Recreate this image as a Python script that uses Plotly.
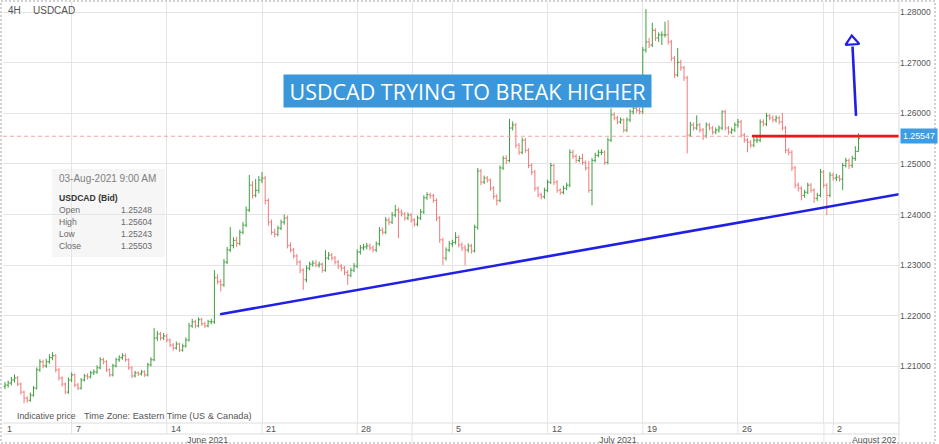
import plotly.graph_objects as go

# ---------------- data (4H USDCAD bars) ----------------
bar_index = list(range(270))

open_ = [
    1.2060, 1.2063, 1.2067, 1.2073, 1.2077, 1.2065, 1.2049, 1.2037, 1.2033, 1.2043, 1.2057, 1.2093, 1.2109, 1.2101, 1.2109, 1.2117, 1.2121, 1.2093, 1.2077, 1.2065, 1.2049,
    1.2073, 1.2083, 1.2063, 1.2057, 1.2073, 1.2081, 1.2079, 1.2087, 1.2089, 1.2097, 1.2113, 1.2109, 1.2093, 1.2083, 1.2101, 1.2113, 1.2117, 1.2121, 1.2113, 1.2097, 1.2081, 1.2087, 1.2085, 1.2089, 1.2083, 1.2103, 1.2113, 1.2156, 1.2164, 1.2156,
    1.2160, 1.2152, 1.2142, 1.2136, 1.2144, 1.2132, 1.2140, 1.2152, 1.2180, 1.2188, 1.2180, 1.2192, 1.2184, 1.2180, 1.2188, 1.2188, 1.2275, 1.2267, 1.2261, 1.2306, 1.2330, 1.2339, 1.2349, 1.2343, 1.2365, 1.2379, 1.2409, 1.2458, 1.2438, 1.2448,
    1.2468, 1.2472, 1.2428, 1.2385, 1.2365, 1.2361, 1.2373, 1.2385, 1.2393, 1.2339, 1.2330, 1.2318, 1.2306, 1.2290, 1.2271, 1.2294, 1.2302, 1.2304, 1.2300, 1.2302, 1.2290, 1.2314, 1.2320, 1.2314, 1.2306, 1.2298, 1.2294, 1.2286, 1.2280, 1.2290,
    1.2298, 1.2326, 1.2334, 1.2336, 1.2338, 1.2334, 1.2330, 1.2342, 1.2369, 1.2365, 1.2389, 1.2385, 1.2399, 1.2409, 1.2405, 1.2401, 1.2393, 1.2399, 1.2389, 1.2381, 1.2393, 1.2405, 1.2433, 1.2439, 1.2437, 1.2428, 1.2393, 1.2350, 1.2314, 1.2330,
    1.2342, 1.2345, 1.2355, 1.2340, 1.2334, 1.2330, 1.2338, 1.2328, 1.2375, 1.2486, 1.2464, 1.2472, 1.2468, 1.2452, 1.2436, 1.2428, 1.2492, 1.2511, 1.2507, 1.2571, 1.2577, 1.2537, 1.2523, 1.2547, 1.2527, 1.2497, 1.2484, 1.2452, 1.2439, 1.2435,
    1.2448, 1.2464, 1.2497, 1.2464, 1.2448, 1.2444, 1.2452, 1.2458, 1.2523, 1.2515, 1.2507, 1.2511, 1.2503, 1.2492, 1.2448, 1.2507, 1.2517, 1.2523, 1.2523, 1.2503, 1.2547, 1.2597, 1.2591, 1.2583, 1.2587, 1.2567, 1.2587, 1.2603, 1.2610, 1.2606,
    1.2603, 1.2725, 1.2741, 1.2735, 1.2764, 1.2749, 1.2755, 1.2755, 1.2755, 1.2741, 1.2709, 1.2676, 1.2701, 1.2690, 1.2670, 1.2557, 1.2577, 1.2571, 1.2577, 1.2567, 1.2555, 1.2577, 1.2571, 1.2563, 1.2567, 1.2571, 1.2603, 1.2571, 1.2563, 1.2567,
    1.2577, 1.2583, 1.2557, 1.2547, 1.2543, 1.2537, 1.2547, 1.2547, 1.2583, 1.2579, 1.2595, 1.2591, 1.2587, 1.2591, 1.2583, 1.2571, 1.2527, 1.2523, 1.2492, 1.2458, 1.2452, 1.2438, 1.2444, 1.2458, 1.2448, 1.2432, 1.2438, 1.2484, 1.2458, 1.2438,
    1.2478, 1.2472, 1.2474, 1.2470, 1.2497, 1.2507, 1.2497, 1.2511, 1.25248,
]

high = [
    1.2069, 1.2072, 1.2079, 1.2084, 1.2081, 1.2068, 1.2052, 1.2041, 1.2048, 1.2061, 1.2098, 1.2114, 1.2113, 1.2115, 1.2124, 1.2128, 1.2124, 1.2097, 1.2080, 1.2068, 1.2078,
    1.2088, 1.2086, 1.2067, 1.2077, 1.2085, 1.2086, 1.2091, 1.2094, 1.2102, 1.2118, 1.2117, 1.2112, 1.2096, 1.2105, 1.2117, 1.2122, 1.2126, 1.2125, 1.2116, 1.2100, 1.2091, 1.2090, 1.2093, 1.2092, 1.2107, 1.2118, 1.2176, 1.2170, 1.2168, 1.2166,
    1.2164, 1.2155, 1.2146, 1.2149, 1.2147, 1.2145, 1.2157, 1.2186, 1.2194, 1.2192, 1.2197, 1.2196, 1.2188, 1.2192, 1.2194, 1.2290, 1.2282, 1.2272, 1.2312, 1.2336, 1.2375, 1.2355, 1.2356, 1.2370, 1.2385, 1.2416, 1.2478, 1.2466, 1.2470, 1.2476,
    1.2484, 1.2476, 1.2432, 1.2390, 1.2372, 1.2378, 1.2390, 1.2400, 1.2398, 1.2345, 1.2334, 1.2322, 1.2310, 1.2294, 1.2299, 1.2307, 1.2309, 1.2310, 1.2307, 1.2305, 1.2330, 1.2326, 1.2324, 1.2318, 1.2310, 1.2302, 1.2298, 1.2290, 1.2295, 1.2304,
    1.2331, 1.2340, 1.2342, 1.2344, 1.2343, 1.2339, 1.2347, 1.2375, 1.2374, 1.2395, 1.2394, 1.2405, 1.2419, 1.2414, 1.2410, 1.2405, 1.2404, 1.2403, 1.2393, 1.2398, 1.2411, 1.2438, 1.2444, 1.2443, 1.2441, 1.2432, 1.2397, 1.2354, 1.2335, 1.2348,
    1.2350, 1.2365, 1.2359, 1.2345, 1.2340, 1.2343, 1.2342, 1.2380, 1.2492, 1.2490, 1.2477, 1.2476, 1.2471, 1.2456, 1.2440, 1.2497, 1.2516, 1.2517, 1.2589, 1.2584, 1.2581, 1.2541, 1.2552, 1.2551, 1.2531, 1.2501, 1.2488, 1.2456, 1.2443, 1.2453,
    1.2469, 1.2502, 1.2500, 1.2468, 1.2452, 1.2457, 1.2463, 1.2529, 1.2528, 1.2519, 1.2516, 1.2520, 1.2507, 1.2506, 1.2512, 1.2522, 1.2528, 1.2529, 1.2527, 1.2552, 1.2610, 1.2602, 1.2595, 1.2592, 1.2590, 1.2592, 1.2608, 1.2616, 1.2614, 1.2611,
    1.2731, 1.2806, 1.2749, 1.2779, 1.2768, 1.2760, 1.2762, 1.2781, 1.2784, 1.2745, 1.2713, 1.2729, 1.2706, 1.2694, 1.2674, 1.2583, 1.2582, 1.2596, 1.2581, 1.2571, 1.2582, 1.2581, 1.2575, 1.2572, 1.2576, 1.2606, 1.2607, 1.2575, 1.2572, 1.2582,
    1.2589, 1.2587, 1.2561, 1.2551, 1.2547, 1.2552, 1.2553, 1.2588, 1.2588, 1.2601, 1.2599, 1.2596, 1.2596, 1.2595, 1.2601, 1.2575, 1.2531, 1.2527, 1.2496, 1.2463, 1.2456, 1.2449, 1.2463, 1.2462, 1.2452, 1.2443, 1.2490, 1.2488, 1.2462, 1.2484,
    1.2483, 1.2480, 1.2478, 1.2502, 1.2512, 1.2511, 1.2516, 1.2535, 1.25604,
]

low = [
    1.2055, 1.2058, 1.2062, 1.2068, 1.2061, 1.2044, 1.2027, 1.2028, 1.2030, 1.2040, 1.2054, 1.2089, 1.2096, 1.2097, 1.2105, 1.2112, 1.2088, 1.2072, 1.2060, 1.2045, 1.2046,
    1.2069, 1.2059, 1.2053, 1.2054, 1.2070, 1.2074, 1.2076, 1.2083, 1.2085, 1.2094, 1.2104, 1.2089, 1.2079, 1.2080, 1.2098, 1.2109, 1.2113, 1.2109, 1.2093, 1.2077, 1.2078, 1.2081, 1.2082, 1.2079, 1.2080, 1.2100, 1.2110, 1.2150, 1.2151, 1.2152,
    1.2147, 1.2138, 1.2131, 1.2133, 1.2128, 1.2129, 1.2137, 1.2149, 1.2176, 1.2175, 1.2177, 1.2180, 1.2176, 1.2177, 1.2183, 1.2184, 1.2262, 1.2248, 1.2257, 1.2302, 1.2326, 1.2333, 1.2336, 1.2339, 1.2361, 1.2375, 1.2405, 1.2432, 1.2434, 1.2442,
    1.2462, 1.2420, 1.2378, 1.2360, 1.2355, 1.2357, 1.2369, 1.2380, 1.2333, 1.2325, 1.2313, 1.2300, 1.2284, 1.2251, 1.2266, 1.2290, 1.2297, 1.2296, 1.2295, 1.2285, 1.2287, 1.2310, 1.2309, 1.2301, 1.2292, 1.2288, 1.2280, 1.2261, 1.2276, 1.2286,
    1.2294, 1.2321, 1.2329, 1.2331, 1.2329, 1.2325, 1.2326, 1.2338, 1.2360, 1.2361, 1.2379, 1.2381, 1.2395, 1.2353, 1.2396, 1.2388, 1.2389, 1.2384, 1.2376, 1.2377, 1.2389, 1.2401, 1.2429, 1.2431, 1.2423, 1.2387, 1.2344, 1.2300, 1.2309, 1.2326,
    1.2336, 1.2341, 1.2335, 1.2328, 1.2300, 1.2325, 1.2323, 1.2325, 1.2370, 1.2458, 1.2460, 1.2463, 1.2447, 1.2430, 1.2418, 1.2424, 1.2488, 1.2500, 1.2503, 1.2566, 1.2531, 1.2518, 1.2519, 1.2522, 1.2492, 1.2478, 1.2446, 1.2434, 1.2430, 1.2431,
    1.2444, 1.2460, 1.2458, 1.2443, 1.2439, 1.2440, 1.2448, 1.2454, 1.2510, 1.2502, 1.2503, 1.2498, 1.2487, 1.2443, 1.2418, 1.2503, 1.2513, 1.2518, 1.2498, 1.2499, 1.2543, 1.2586, 1.2578, 1.2579, 1.2562, 1.2563, 1.2583, 1.2598, 1.2601, 1.2598,
    1.2599, 1.2720, 1.2729, 1.2731, 1.2743, 1.2741, 1.2735, 1.2750, 1.2736, 1.2703, 1.2670, 1.2672, 1.2684, 1.2664, 1.2521, 1.2553, 1.2566, 1.2567, 1.2562, 1.2547, 1.2551, 1.2566, 1.2558, 1.2559, 1.2562, 1.2567, 1.2566, 1.2558, 1.2559, 1.2563,
    1.2572, 1.2552, 1.2542, 1.2523, 1.2532, 1.2533, 1.2541, 1.2543, 1.2574, 1.2575, 1.2586, 1.2582, 1.2582, 1.2578, 1.2566, 1.2521, 1.2517, 1.2486, 1.2452, 1.2446, 1.2428, 1.2433, 1.2440, 1.2443, 1.2423, 1.2427, 1.2434, 1.2452, 1.2399, 1.2434,
    1.2467, 1.2466, 1.2465, 1.2448, 1.2493, 1.2490, 1.2492, 1.2506, 1.25243,
]

close = [
    1.2063, 1.2067, 1.2073, 1.2077, 1.2065, 1.2049, 1.2037, 1.2033, 1.2043, 1.2057, 1.2093, 1.2109, 1.2101, 1.2109, 1.2117, 1.2121, 1.2093, 1.2077, 1.2065, 1.2049, 1.2073,
    1.2083, 1.2063, 1.2057, 1.2073, 1.2081, 1.2079, 1.2087, 1.2089, 1.2097, 1.2113, 1.2109, 1.2093, 1.2083, 1.2101, 1.2113, 1.2117, 1.2121, 1.2113, 1.2097, 1.2081, 1.2087, 1.2085, 1.2089, 1.2083, 1.2103, 1.2113, 1.2156, 1.2164, 1.2156, 1.2160,
    1.2152, 1.2142, 1.2136, 1.2144, 1.2132, 1.2140, 1.2152, 1.2180, 1.2188, 1.2180, 1.2192, 1.2184, 1.2180, 1.2188, 1.2188, 1.2275, 1.2267, 1.2261, 1.2306, 1.2330, 1.2339, 1.2349, 1.2343, 1.2365, 1.2379, 1.2409, 1.2458, 1.2438, 1.2448, 1.2468,
    1.2472, 1.2428, 1.2385, 1.2365, 1.2361, 1.2373, 1.2385, 1.2393, 1.2339, 1.2330, 1.2318, 1.2306, 1.2290, 1.2271, 1.2294, 1.2302, 1.2304, 1.2300, 1.2302, 1.2290, 1.2314, 1.2320, 1.2314, 1.2306, 1.2298, 1.2294, 1.2286, 1.2280, 1.2290, 1.2298,
    1.2326, 1.2334, 1.2336, 1.2338, 1.2334, 1.2330, 1.2342, 1.2369, 1.2365, 1.2389, 1.2385, 1.2399, 1.2409, 1.2405, 1.2401, 1.2393, 1.2399, 1.2389, 1.2381, 1.2393, 1.2405, 1.2433, 1.2439, 1.2437, 1.2428, 1.2393, 1.2350, 1.2314, 1.2330, 1.2342,
    1.2345, 1.2355, 1.2340, 1.2334, 1.2330, 1.2338, 1.2328, 1.2375, 1.2486, 1.2464, 1.2472, 1.2468, 1.2452, 1.2436, 1.2428, 1.2492, 1.2511, 1.2507, 1.2571, 1.2577, 1.2537, 1.2523, 1.2547, 1.2527, 1.2497, 1.2484, 1.2452, 1.2439, 1.2435, 1.2448,
    1.2464, 1.2497, 1.2464, 1.2448, 1.2444, 1.2452, 1.2458, 1.2523, 1.2515, 1.2507, 1.2511, 1.2503, 1.2492, 1.2448, 1.2507, 1.2517, 1.2523, 1.2523, 1.2503, 1.2547, 1.2597, 1.2591, 1.2583, 1.2587, 1.2567, 1.2587, 1.2603, 1.2610, 1.2606, 1.2603,
    1.2725, 1.2741, 1.2735, 1.2764, 1.2749, 1.2755, 1.2755, 1.2755, 1.2741, 1.2709, 1.2676, 1.2701, 1.2690, 1.2670, 1.2557, 1.2577, 1.2571, 1.2577, 1.2567, 1.2555, 1.2577, 1.2571, 1.2563, 1.2567, 1.2571, 1.2603, 1.2571, 1.2563, 1.2567, 1.2577,
    1.2583, 1.2557, 1.2547, 1.2543, 1.2537, 1.2547, 1.2547, 1.2583, 1.2579, 1.2595, 1.2591, 1.2587, 1.2591, 1.2583, 1.2571, 1.2527, 1.2523, 1.2492, 1.2458, 1.2452, 1.2438, 1.2444, 1.2458, 1.2448, 1.2432, 1.2438, 1.2484, 1.2458, 1.2438, 1.2478,
    1.2472, 1.2474, 1.2470, 1.2497, 1.2507, 1.2497, 1.2511, 1.25248, 1.25503,
]

# axis ticks / labels
ytick_vals = [1.21, 1.22, 1.23, 1.24, 1.25, 1.26, 1.27, 1.28]
ytick_text = ["1.21000", "1.22000", "1.23000", "1.24000", "1.25000", "1.26000", "1.27000", "1.28000"]
day_tick_idx = [-0.6, 21, 51, 81, 111, 141, 171, 201, 231, 261]
day_tick_labels = ["1", "7", "14", "21", "28", "5", "12", "19", "26", "2"]
month_start_idx = [128.3, 258.1]
month_label_idx = [63.8, 193.2]
month_labels = ["June 2021", "July 2021"]
month_last_label = "August 202"

# drawings on the chart
last_price = 1.25547
trend_x = [67.8, 281.75]
trend_y = [1.2203, 1.2440]
resist_x = [235.4, 281.75]
resist_y = [1.2555, 1.2555]
arrow_x = [268.2, 267.1]
arrow_y = [1.2595, 1.2732]
arrow_head_x = [267.0]
arrow_head_y = [1.2742]
info_date = "03-Aug-2021 9:00 AM"
info_title = "USDCAD (Bid)"
info_labels = ["Open", "High", "Low", "Close"]
info_values = ["1.25248", "1.25604", "1.25243", "1.25503"]

X_RANGE = [-0.63, 281.75]
Y_RANGE = [1.1988, 1.2820]

# ---------------- figure ----------------
FONT = "Liberation Sans, Arial, sans-serif"
GRID = "#e4e4e4"
TXT = "#555555"

def fx(px):  # layout helper: pixel -> paper x
    return (px - 3) / 896.0

def fy(py):  # layout helper: pixel -> paper y
    return (423 - py) / 421.0

fig = go.Figure()

fig.add_trace(go.Ohlc(
    x=bar_index, open=open_, high=high, low=low, close=close,
    increasing=dict(line=dict(color="#3f9e3f", width=1)),
    decreasing=dict(line=dict(color="#f27a7a", width=1)),
    tickwidth=0.45, hoverinfo="skip", showlegend=False,
))

# blue arrow head (open triangle)
fig.add_trace(go.Scatter(
    x=arrow_head_x, y=arrow_head_y, mode="markers",
    marker=dict(symbol="triangle-up-open", size=12, color="#1f1fe6",
                line=dict(width=2.2, color="#1f1fe6"), angle=-4),
    hoverinfo="skip", showlegend=False,
))

shapes = []
shapes.append(dict(type="rect", xref="paper", yref="paper", x0=fx(52), x1=fx(165),
                   y0=fy(257), y1=fy(169), fillcolor="#f6f6f6", line=dict(width=0), layer="below"))
shapes.append(dict(type="line", xref="paper", yref="y", x0=0, x1=1, y0=last_price, y1=last_price,
                   line=dict(color="#f5a3a3", width=1.2, dash="4px,3px")))
shapes.append(dict(type="line", xref="x", yref="y", x0=trend_x[0], x1=trend_x[1],
                   y0=trend_y[0], y1=trend_y[1], line=dict(color="#1f1fe6", width=2.6)))
shapes.append(dict(type="line", xref="x", yref="y", x0=resist_x[0], x1=resist_x[1],
                   y0=resist_y[0], y1=resist_y[1], line=dict(color="#f01414", width=2.6)))
shapes.append(dict(type="line", xref="x", yref="y", x0=arrow_x[0], x1=arrow_x[1],
                   y0=arrow_y[0], y1=arrow_y[1], line=dict(color="#1f1fe6", width=2.6)))
shapes.append(dict(type="line", xref="paper", yref="paper", x0=0, x1=1, y0=0, y1=0,
                   line=dict(color="#dddddd", width=1)))
shapes.append(dict(type="line", xref="paper", yref="paper", x0=0, x1=1, y0=fy(434), y1=fy(434),
                   line=dict(color="#dddddd", width=1)))
for xi in day_tick_idx[1:]:
    shapes.append(dict(type="line", xref="x", yref="paper", x0=xi, x1=xi, y0=fy(434), y1=0,
                       line=dict(color=GRID, width=1)))
for xi in month_start_idx:
    shapes.append(dict(type="line", xref="x", yref="paper", x0=xi, x1=xi, y0=fy(444), y1=0,
                       line=dict(color=GRID, width=1)))
shapes.append(dict(type="line", xref="paper", yref="paper", x0=1, x1=1, y0=fy(444), y1=fy(0),
                   line=dict(color="#dddddd", width=1)))
shapes.append(dict(type="rect", xref="paper", yref="paper", x0=fx(1), x1=fx(935), y0=fy(443), y1=fy(1),
                   line=dict(color="#c4c4c4", width=1.5, dash="2px,2px")))

ann = []
def txt(text, x, y, xanchor="left", size=9, color=TXT, xref="paper", yref="paper", bold=False, xshift=0):
    ann.append(dict(text=("<b>%s</b>" % text) if bold else text, x=x, y=y, xref=xref, yref=yref,
                    xanchor=xanchor, yanchor="middle", showarrow=False, xshift=xshift,
                    font=dict(family=FONT, size=size, color=color)))

txt("4H", fx(6), fy(11), size=10)
txt("USDCAD", fx(31), fy(11), size=10)
txt("Indicative price", fx(15), fy(416), size=8.8)
txt("Time Zone: Eastern Time (US &amp; Canada)", fx(82), fy(416), size=9.2)
for xi, lab in zip(day_tick_idx, day_tick_labels):
    txt(lab, xi, fy(428.5), xref="x", xshift=2, size=9)
for xi, lab in zip(month_label_idx, month_labels):
    txt(lab, xi, fy(440), xanchor="center", xref="x", size=8.8)
txt(month_last_label, 1, fy(440), xanchor="right", size=8.8)

txt(info_date, fx(57), fy(179), size=10, color="#808080")
txt(info_title, fx(57), fy(198), size=8.6, color="#333333", bold=True)
for k, (lab, val) in enumerate(zip(info_labels, info_values)):
    yy = fy(210 + 12 * k)
    txt(lab, fx(57), yy, size=8.6, color="#6a6a6a")
    txt(val, fx(154), yy, xanchor="right", size=8.6, color="#6a6a6a")

ann.append(dict(text="USDCAD TRYING TO BREAK HIGHER", x=fx(467.5), y=fy(91), xref="paper", yref="paper",
                xanchor="center", yanchor="middle", showarrow=False, bgcolor="#3a97dc", borderpad=2,
                width=363, height=28,
                font=dict(family="Open Sans, sans-serif", size=21.5, color="white")))

ann.append(dict(text="1.25547", x=1, y=last_price, xref="paper", yref="y", xanchor="left",
                yanchor="middle", showarrow=False, bgcolor="#3d9de2", borderpad=2, xshift=1,
                font=dict(family=FONT, size=8.8, color="white")))

fig.update_layout(
    width=939, height=444,
    margin=dict(l=3, r=40, t=2, b=21),
    paper_bgcolor="white", plot_bgcolor="white",
    showlegend=False,
    shapes=shapes, annotations=ann,
    font=dict(family=FONT, size=9, color=TXT),
    xaxis=dict(range=X_RANGE, tickvals=day_tick_idx[1:] + month_start_idx, showticklabels=False,
               showgrid=True, gridcolor=GRID, gridwidth=1, zeroline=False, showline=False,
               ticks="", rangeslider=dict(visible=False), fixedrange=True),
    yaxis=dict(range=Y_RANGE, side="right", tickvals=ytick_vals, ticktext=ytick_text,
               showgrid=True, gridcolor=GRID, gridwidth=1, zeroline=False, showline=False,
               ticks="", tickfont=dict(family=FONT, size=8.5, color=TXT), fixedrange=True),
)

fig.write_html("out.html", config={"displayModeBar": False},
               post_script="document.body.style.margin='0px';document.body.style.overflow='hidden';")
